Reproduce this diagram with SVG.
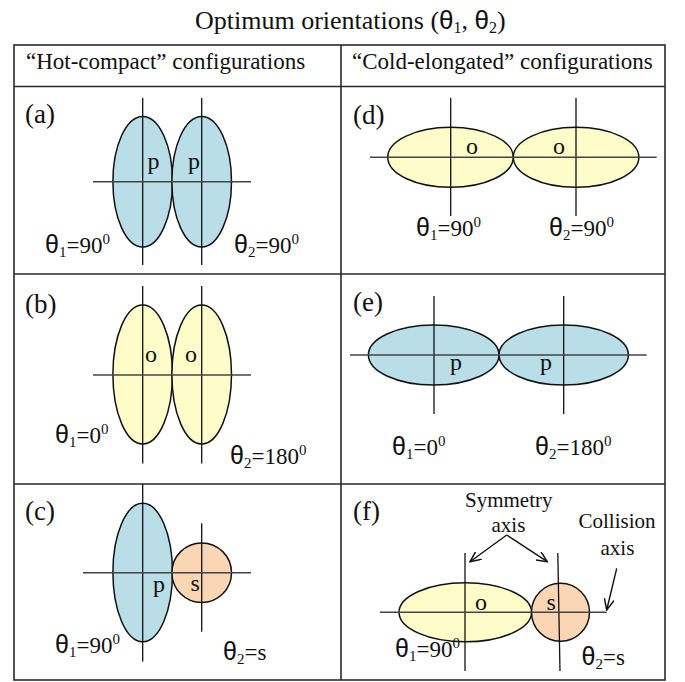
<svg xmlns="http://www.w3.org/2000/svg" width="685" height="682" viewBox="0 0 685 682">
<style>
.t{font-family:"Liberation Serif","Times New Roman",serif;fill:#111}
.th{font-family:"Liberation Sans",Arial,sans-serif}
.grid{stroke:#2a2a2a;stroke-width:1.6;fill:none}
.ax{stroke:#111;stroke-width:1.3}
.hx{stroke:#444;stroke-width:1.6}
.blue{fill:#b9dee8;stroke:#111;stroke-width:1.5}
.yel{fill:#fefdc9;stroke:#111;stroke-width:1.5}
.org{fill:#fbd6b4;stroke:#111;stroke-width:1.5}
.lab{font-size:27px}
.let{font-size:24px}
.tl{font-size:23px}
.arr{stroke:#111;stroke-width:1.4;fill:none}
</style>
<defs>
<marker id="ah" viewBox="0 0 12 10" refX="11" refY="5" markerWidth="12" markerHeight="10" markerUnits="userSpaceOnUse" orient="auto">
<path d="M0,0 L11,5 L0,10" fill="none" stroke="#111" stroke-width="1.5"/>
</marker>
</defs>

<text class="t" x="195" y="29" font-size="26">Optimum orientations (<tspan class="th">θ</tspan><tspan font-size="16" dy="4">1</tspan><tspan dy="-4">, </tspan><tspan class="th">θ</tspan><tspan font-size="16" dy="4">2</tspan><tspan dy="-4">)</tspan></text>

<g id="table">
<rect class="grid" x="14" y="45" width="651" height="635"/>
<line class="grid" x1="341" y1="45" x2="341" y2="680"/>
<line class="grid" x1="14" y1="86.5" x2="665" y2="86.5"/>
<line class="grid" x1="14" y1="274" x2="665" y2="274"/>
<line class="grid" x1="14" y1="484" x2="665" y2="484"/>
<text class="t" x="26" y="69" font-size="23">“Hot-compact” configurations</text>
<text class="t" x="352" y="69" font-size="23">“Cold-elongated” configurations</text>
</g>

<g id="cell-a">
<text class="t lab" x="25" y="123">(a)</text>
<ellipse id="a-n1" class="blue" cx="142.7" cy="181.7" rx="29.8" ry="65.3"/>
<ellipse id="a-n2" class="blue" cx="201.7" cy="181.7" rx="29.8" ry="65.3"/>
<line class="ax" x1="142.7" y1="98" x2="142.7" y2="265"/>
<line class="ax" x1="201.7" y1="98" x2="201.7" y2="265"/>
<line class="hx" x1="93" y1="181.7" x2="251" y2="181.7"/>
<text class="t let" x="147.5" y="169">p</text>
<text class="t let" x="188" y="169">p</text>
<text class="t tl" x="45" y="253"><tspan class="th" font-size="25">θ</tspan><tspan font-size="15" dy="4">1</tspan><tspan dy="-4">=90</tspan><tspan font-size="15" dy="-9">0</tspan></text>
<text class="t tl" x="234" y="253"><tspan class="th" font-size="25">θ</tspan><tspan font-size="15" dy="4">2</tspan><tspan dy="-4">=90</tspan><tspan font-size="15" dy="-9">0</tspan></text>
</g>

<g id="cell-b">
<text class="t lab" x="25" y="313">(b)</text>
<ellipse id="b-n1" class="yel" cx="142.7" cy="374.5" rx="29.8" ry="69.5"/>
<ellipse id="b-n2" class="yel" cx="201.7" cy="374.5" rx="29.8" ry="69.5"/>
<line class="ax" x1="142.7" y1="286" x2="142.7" y2="463.5"/>
<line class="ax" x1="201.7" y1="286" x2="201.7" y2="463.5"/>
<line class="hx" x1="93" y1="375" x2="251" y2="375"/>
<text class="t let" x="145" y="362">o</text>
<text class="t let" x="185" y="362">o</text>
<text class="t tl" x="55" y="443"><tspan class="th" font-size="25">θ</tspan><tspan font-size="15" dy="4">1</tspan><tspan dy="-4">=0</tspan><tspan font-size="15" dy="-9">0</tspan></text>
<text class="t tl" x="230" y="464"><tspan class="th" font-size="25">θ</tspan><tspan font-size="15" dy="4">2</tspan><tspan dy="-4">=180</tspan><tspan font-size="15" dy="-9">0</tspan></text>
</g>

<g id="cell-c">
<text class="t lab" x="25" y="520">(c)</text>
<ellipse id="c-n1" class="blue" cx="142.7" cy="572.5" rx="29.8" ry="69.2"/>
<circle id="c-n2" class="org" cx="201.7" cy="572.7" r="29.8"/>
<line class="ax" x1="142.7" y1="484" x2="142.7" y2="661.5"/>
<line class="ax" x1="201.7" y1="523.3" x2="201.7" y2="631.7"/>
<line class="hx" x1="83" y1="572.7" x2="251" y2="572.7"/>
<text class="t let" x="153" y="592">p</text>
<text class="t let" x="190.5" y="591">s</text>
<text class="t tl" x="55" y="653"><tspan class="th" font-size="25">θ</tspan><tspan font-size="15" dy="4">1</tspan><tspan dy="-4">=90</tspan><tspan font-size="15" dy="-9">0</tspan></text>
<text class="t tl" x="223" y="660"><tspan class="th" font-size="25">θ</tspan><tspan font-size="15" dy="4">2</tspan><tspan dy="-4">=s</tspan></text>
</g>

<g id="cell-d">
<text class="t lab" x="353" y="124">(d)</text>
<ellipse id="d-n1" class="yel" cx="450.5" cy="157.3" rx="62.8" ry="30"/>
<ellipse id="d-n2" class="yel" cx="576.1" cy="157.3" rx="62.8" ry="30"/>
<line class="ax" x1="450.7" y1="98" x2="450.7" y2="216"/>
<line class="ax" x1="576" y1="98" x2="576" y2="216"/>
<line class="hx" x1="370" y1="157.3" x2="656.7" y2="157.3"/>
<text class="t let" x="466" y="154">o</text>
<text class="t let" x="553" y="154">o</text>
<text class="t tl" x="416" y="236"><tspan class="th" font-size="25">θ</tspan><tspan font-size="15" dy="4">1</tspan><tspan dy="-4">=90</tspan><tspan font-size="15" dy="-9">0</tspan></text>
<text class="t tl" x="549" y="236"><tspan class="th" font-size="25">θ</tspan><tspan font-size="15" dy="4">2</tspan><tspan dy="-4">=90</tspan><tspan font-size="15" dy="-9">0</tspan></text>
</g>

<g id="cell-e">
<text class="t lab" x="353" y="311">(e)</text>
<ellipse id="e-n1" class="blue" cx="433.7" cy="355" rx="65.3" ry="30"/>
<ellipse id="e-n2" class="blue" cx="563.7" cy="355" rx="64.7" ry="30"/>
<line class="ax" x1="434" y1="296" x2="434" y2="414"/>
<line class="ax" x1="563.7" y1="296" x2="563.7" y2="414"/>
<line class="hx" x1="350" y1="355" x2="646.7" y2="355"/>
<text class="t let" x="450" y="370">p</text>
<text class="t let" x="540" y="370">p</text>
<text class="t tl" x="392" y="455"><tspan class="th" font-size="25">θ</tspan><tspan font-size="15" dy="4">1</tspan><tspan dy="-4">=0</tspan><tspan font-size="15" dy="-9">0</tspan></text>
<text class="t tl" x="535" y="455"><tspan class="th" font-size="25">θ</tspan><tspan font-size="15" dy="4">2</tspan><tspan dy="-4">=180</tspan><tspan font-size="15" dy="-9">0</tspan></text>
</g>

<g id="cell-f">
<text class="t lab" x="353" y="520">(f)</text>
<ellipse id="f-n1" class="yel" cx="465.3" cy="612.3" rx="66.3" ry="29.5"/>
<circle id="f-n2" class="org" cx="560.5" cy="612.3" r="29"/>
<line class="ax" x1="465" y1="553" x2="465" y2="671"/>
<line class="ax" x1="557.8" y1="553" x2="560" y2="671"/>
<line class="hx" x1="380" y1="612.3" x2="606.7" y2="612.3"/>
<text class="t let" x="475" y="610">o</text>
<text class="t let" x="546.5" y="610">s</text>
<text class="t" x="465" y="507" font-size="21">Symmetry</text>
<text class="t" x="491.5" y="531.5" font-size="21">axis</text>
<text class="t" x="578.5" y="528" font-size="21">Collision</text>
<text class="t" x="600.5" y="555" font-size="21">axis</text>
<text class="t tl" x="395" y="656.5"><tspan class="th" font-size="25">θ</tspan><tspan font-size="15" dy="4">1</tspan><tspan dy="-4">=90</tspan><tspan font-size="15" dy="-9">0</tspan></text>
<text class="t tl" x="581.5" y="665"><tspan class="th" font-size="25">θ</tspan><tspan font-size="15" dy="4">2</tspan><tspan dy="-4">=s</tspan></text>
</g>

<g id="connectors">
<line class="arr" x1="506.7" y1="535" x2="470" y2="561.7" marker-end="url(#ah)"/>
<line class="arr" x1="506.7" y1="535" x2="547.3" y2="561.7" marker-end="url(#ah)"/>
<line class="arr" x1="616.7" y1="568.3" x2="606.7" y2="610" marker-end="url(#ah)"/>
</g>
</svg>
